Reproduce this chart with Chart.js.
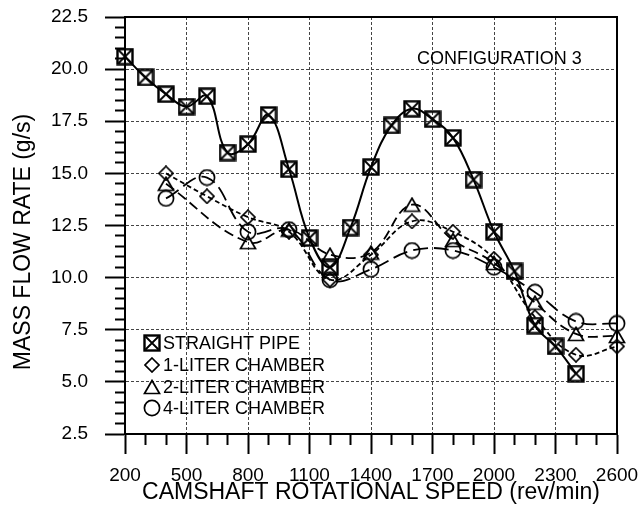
<!DOCTYPE html>
<html><head><meta charset="utf-8">
<script src="https://cdn.jsdelivr.net/npm/chart.js@4/dist/chart.umd.min.js"></script>
<style>html,body{margin:0;padding:0;background:#fff;}canvas{display:block;}</style>
</head><body>
<canvas id="c" width="640" height="522"></canvas>
<script>
// ---- data ----
const speedPipe = [200,300,400,500,600,700,800,900,1000,1100,1200,1300,1400,1500,1600,1700,1800,1900,2000,2100,2200,2300,2400];
const straightPipe = [20.6,19.6,18.8,18.2,18.7,16.0,16.4,17.8,15.2,11.9,10.5,12.4,15.3,17.3,18.1,17.6,16.7,14.7,12.2,10.3,7.7,6.7,5.4];
const speed1L = [400,600,800,1000,1200,1400,1600,1800,2000,2200,2400,2600];
const oneLiter = [15.0,13.9,12.9,12.2,9.9,11.1,12.7,12.2,10.9,8.1,6.3,6.7];
const speed2L = [400,800,1000,1200,1400,1600,1800,2000,2200,2400,2600];
const twoLiter = [14.5,11.7,12.3,11.1,11.2,13.5,11.8,10.7,8.8,7.3,7.2];
const speed4L = [400,600,800,1000,1200,1400,1600,1800,2000,2200,2400,2600];
const fourLiter = [13.8,14.8,12.2,12.3,9.9,10.4,11.3,11.3,10.5,9.3,7.9,7.8];
const xTickLabels = ['200','500','800','1100','1400','1700','2000','2300','2600'];
const yTickLabels = ['2.5','5.0','7.5','10.0','12.5','15.0','17.5','20.0','22.5'];
const seriesNames = ['STRAIGHT PIPE','1-LITER CHAMBER','2-LITER CHAMBER','4-LITER CHAMBER'];
const annotationText = 'CONFIGURATION 3';
const xTitle = 'CAMSHAFT ROTATIONAL SPEED (rev/min)';
const yTitle = 'MASS FLOW RATE (g/s)';

const FONT = "'Liberation Sans', Arial, Helvetica, sans-serif";

// ---- marker images ----
function makeMarker(kind){
  const c = document.createElement('canvas');
  let w = 18, h = 18;
  if (kind === 'diamond') { w = 16; h = 16; }
  if (kind === 'triangle') { w = 18; h = 16; }
  c.width = w; c.height = h;
  const ctx = c.getContext('2d');
  ctx.strokeStyle = '#000';
  ctx.beginPath();
  if (kind === 'xsquare') {
    ctx.lineWidth = 2.4;
    ctx.strokeRect(1.5,1.5,15,15);
    ctx.lineWidth = 1.8;
    ctx.beginPath();
    ctx.moveTo(2.5,2.5); ctx.lineTo(15.5,15.5);
    ctx.moveTo(15.5,2.5); ctx.lineTo(2.5,15.5);
    ctx.stroke();
  } else if (kind === 'diamond') {
    ctx.lineWidth = 1.7;
    ctx.moveTo(8,1); ctx.lineTo(15,8); ctx.lineTo(8,15); ctx.lineTo(1,8); ctx.closePath();
    ctx.stroke();
  } else if (kind === 'triangle') {
    ctx.lineWidth = 1.7;
    ctx.moveTo(9,1.5); ctx.lineTo(16.5,14.5); ctx.lineTo(1.5,14.5); ctx.closePath();
    ctx.stroke();
  } else {
    ctx.lineWidth = 1.7;
    ctx.arc(9,9,7.6,0,Math.PI*2);
    ctx.stroke();
  }
  return c;
}
const markers = [makeMarker('xsquare'), makeMarker('diamond'), makeMarker('triangle'), makeMarker('circle')];

function pts(xs, ys){ return xs.map((x,i)=>({x:x, y:ys[i]})); }

function ds(i, xs, ys, dash, width){
  return {
    label: seriesNames[i],
    data: pts(xs, ys),
    borderColor: '#000',
    backgroundColor: '#000',
    borderWidth: width,
    borderDash: dash,
    pointStyle: markers[i],
    pointRadius: 8,
    pointHoverRadius: 8,
    tension: 0.4,
    fill: false,
    clip: false
  };
}

const isMajorX = v => xTickLabels.includes(String(Math.round(v)));
const isMajorY = v => yTickLabels.includes(Number(v).toFixed(1));

const extras = {
  id: 'extras',
  beforeDatasetsDraw(chart){
    const {ctx, chartArea: a} = chart;
    ctx.save();
    ctx.strokeStyle = '#000';
    ctx.lineWidth = 2;
    ctx.strokeRect(a.left, a.top, a.right - a.left, a.bottom - a.top);
    ctx.restore();
  },
  afterDraw(chart){
    const {ctx} = chart;
    ctx.save();
    ctx.fillStyle = '#000';
    ctx.font = '18px ' + FONT;
    ctx.textAlign = 'left';
    ctx.textBaseline = 'middle';
    ctx.fillText(annotationText, 417, 59);
    const rows = [343, 365, 387, 408];
    for (let i = 0; i < 4; i++) {
      const m = markers[i];
      ctx.drawImage(m, Math.round(152 - m.width/2), Math.round(rows[i] - m.height/2));
      ctx.fillText(seriesNames[i], 163, rows[i] + 1);
    }
    ctx.font = '23px ' + FONT;
    ctx.translate(24, 242);
    ctx.rotate(-Math.PI/2);
    ctx.textAlign = 'center';
    ctx.fillText(yTitle, 0, 0);
    ctx.restore();
  }
};

new Chart(document.getElementById('c'), {
  type: 'line',
  data: {
    datasets: [
      ds(0, speedPipe, straightPipe, [], 2),
      ds(1, speed1L, oneLiter, [5,3], 1.8),
      ds(2, speed2L, twoLiter, [10,5], 1.8),
      ds(3, speed4L, fourLiter, [15,6], 1.8)
    ]
  },
  options: {
    responsive: false,
    animation: false,
    events: [],
    layout: { padding: { left: 0, right: 23, top: 17, bottom: 0 } },
    plugins: { legend: { display: false }, tooltip: { enabled: false } },
    scales: {
      x: {
        type: 'linear',
        min: 200, max: 2600,
        afterFit(s){ s.height = 88; s.paddingLeft = 0; s.paddingRight = 0; },
        ticks: {
          stepSize: 100, autoSkip: false, maxRotation: 0, minRotation: 0,
          color: '#000', padding: 10,
          font: { family: FONT, size: 19 },
          callback: v => isMajorX(v) ? String(Math.round(v)) : ''
        },
        grid: {
          drawTicks: true,
          tickLength: 20,
          color: c => isMajorX(c.tick.value) ? '#444' : 'rgba(0,0,0,0)',
          lineWidth: 1,
          tickColor: '#000',
          tickWidth: 2,
          tickBorderDash: c => isMajorX(c.tick.value) ? [] : [10,100]
        },
        border: { display: true, color: '#000', width: 2, dash: [3,2] },
        title: {
          display: true, text: xTitle, color: '#000',
          font: { family: FONT, size: 23 },
          padding: { top: 0, bottom: 16 }
        }
      },
      y: {
        type: 'linear',
        min: 2.5, max: 22.5,
        afterFit(s){ s.width = 125; s.paddingTop = 0; s.paddingBottom = 0; },
        ticks: {
          stepSize: 0.5, autoSkip: false, color: '#000', padding: 17,
          font: { family: FONT, size: 19 },
          callback: v => isMajorY(v) ? Number(v).toFixed(1) : ''
        },
        grid: {
          drawTicks: true,
          tickLength: 20,
          color: c => isMajorY(c.tick.value) ? '#444' : 'rgba(0,0,0,0)',
          lineWidth: 1,
          tickColor: '#000',
          tickWidth: 2,
          tickBorderDash: c => isMajorY(c.tick.value) ? [] : [0,10,10,100]
        },
        border: { display: true, color: '#000', width: 2, dash: [3,2] },
        title: { display: false }
      }
    }
  },
  plugins: [extras]
});
</script>
</body></html>
